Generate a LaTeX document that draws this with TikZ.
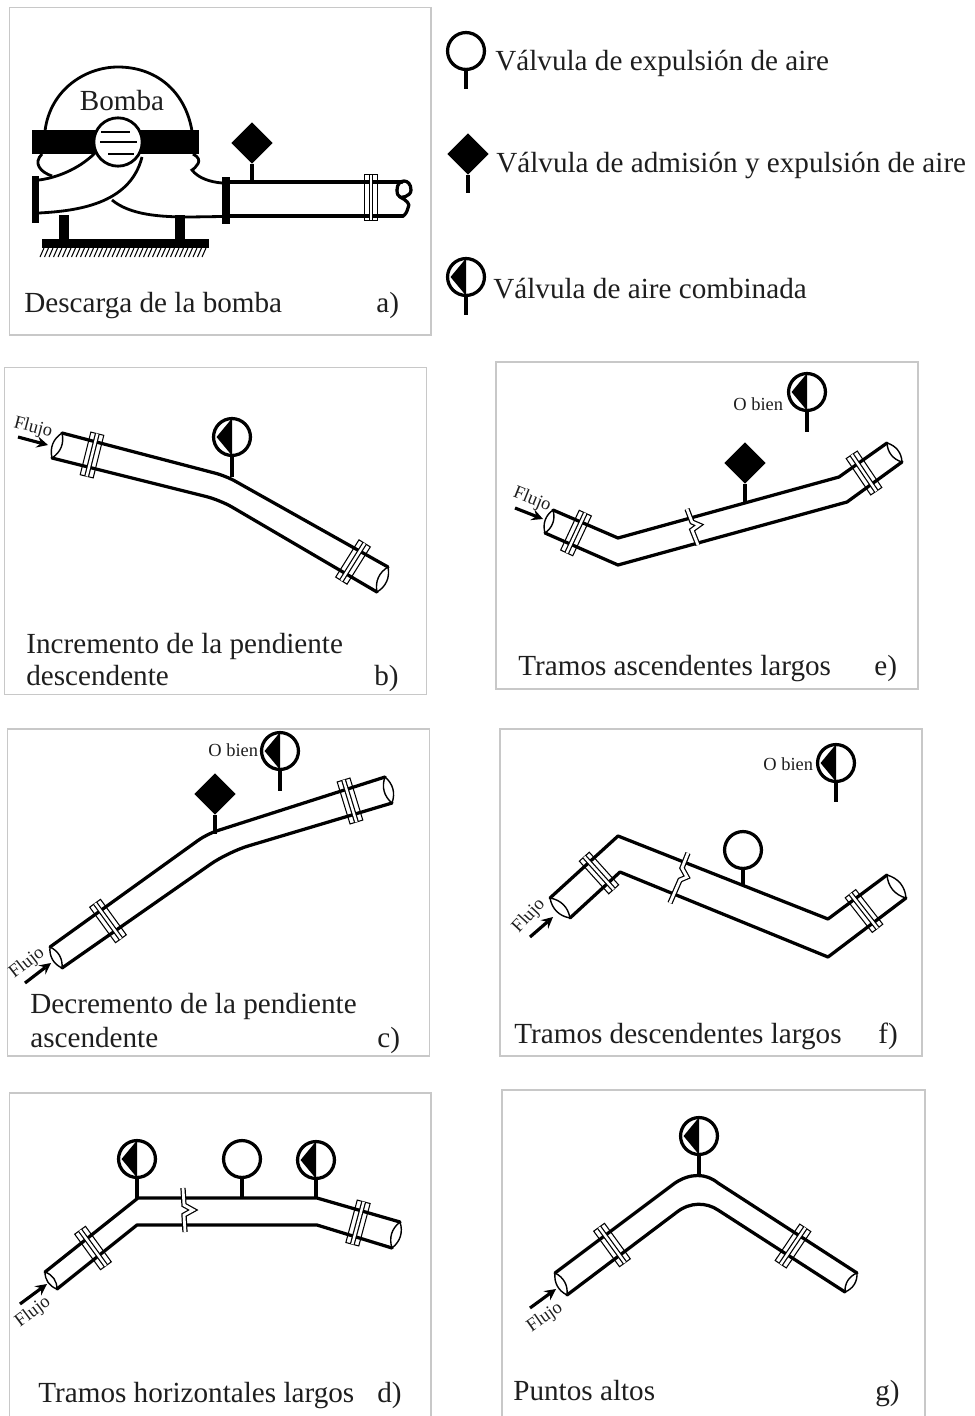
\documentclass[tikz,border=0pt]{standalone}
\usepackage{fontspec}
\setmainfont{Liberation Serif}
\usetikzlibrary{shapes.geometric}
\tikzset{>=stealth}
\definecolor{framegray}{HTML}{C8C8C8}
\definecolor{inkgray}{HTML}{1E1E1E}
\tikzset{
    panel/.style={draw=framegray, line width=0.6pt},
    pipeline/.style={line width=1.85pt, line join=round, line cap=round},
    pipeend/.style={line width=0.8pt},
    thinline/.style={line width=1.6pt},
    caption/.style={font=\fontsize{16.6}{19}\selectfont, text=inkgray, inner sep=0pt, anchor=base west},
    smalltext/.style={font=\fontsize{10.5}{12}\selectfont, text=inkgray, inner sep=0pt},
    flow/.style={line width=1.8pt, ->},
    stem/.style={line width=1.85pt},
    airvalve/.style={circle, draw, fill=white, line width=1.85pt, inner sep=0pt, outer sep=0pt, minimum size=21pt},
    combovalve/.style={airvalve, path picture={
        \fill[black] ([yshift=10.6pt]path picture bounding box.center) -- ([xshift=-8.8pt]path picture bounding box.center)
            -- ([yshift=-10.6pt]path picture bounding box.center) -- cycle;}},
    dualvalve/.style={diamond, fill, inner sep=0pt, outer sep=0pt, minimum size=23.5pt},
    flangebox/.style={rectangle, draw, line width=0.6pt, inner sep=0pt, outer sep=0pt, minimum width=7.6pt, minimum height=25pt},
    flangeline/.style={double, double distance=1.4pt, line width=0.7pt},
    breakline/.style={double=white, double distance=1.6pt, line width=0.7pt},
}
\begin{document}
\begin{tikzpicture}[x=0.02cm, y=-0.02cm]
    \useasboundingbox (0,0) rectangle (974,1416);
    \draw[panel] (9.5,7.5) rectangle (431,335);
    \draw[panel] (4.5,367.5) rectangle (426.5,694.5);
    \draw[panel] (7.5,729) rectangle (429.5,1056);
    \draw[panel] (9.5,1416) -- (9.5,1093) -- (431,1093) -- (431,1416);
    \draw[panel] (496,362) rectangle (918,689);
    \draw[panel] (500,729) rectangle (922,1056);
    \draw[panel] (502,1416) -- (502,1090) -- (925,1090) -- (925,1416);

    \draw[thinline] (45,131) .. controls (50,90) and (85,67) .. (118,67) .. controls (155,67) and (185,90) .. (192,131);
    \fill (32,130) rectangle (199,154);
    \fill (31.5,176) rectangle (38.5,223);
    \fill (222,177) rectangle (229.5,224);
    \fill (59,215) rectangle (69,240);
    \fill (175,215) rectangle (185,240);
    \fill (42,239) rectangle (209,248);
    \foreach \x in {44,48.5,...,208}
        \draw[line width=0.6pt] (\x,248) -- (\x-4,257);
    \draw[thinline] (42,154) .. controls (33,163) and (40,172) .. (52,176);
    \draw[thinline] (39,180) .. controls (55,178) and (78,170) .. (95,153);
    \draw[thinline] (39,213) .. controls (75,211) and (130,205) .. (142,157);
    \draw[thinline] (112,200) .. controls (130,215) and (160,217) .. (190,217) -- (222,216.5);
    \draw[thinline] (193,154) .. controls (205,160) and (195,168) .. (192,170) .. controls (198,178) and (210,182) .. (222,183);
    \node[airvalve, line width=1.6pt, minimum size=27.5pt] (impeller) at (118,142) {};
    \draw[thinline] (101,132) -- (130,132);
    \draw[thinline] (100,142) -- (137,142);
    \draw[thinline] (108,154) -- (134,154);
    \node[caption, anchor=base] (bomba) at (122,111) {Bomba};
    \draw[pipeline] (229,182) -- (402,182);
    \draw[pipeline] (229,216) -- (403,216);
    \draw[pipeline] (397,190) .. controls (397,178) and (411,178) .. (411,190) .. controls (411,197) and (400,198) .. (400,197) .. controls (406,200) and (411,204) .. (408,208) .. controls (407,212) and (405,215) .. (403,216);
    \draw[pipeline] (397,190) .. controls (397,194) and (398,196) .. (400,197);
    \node[flangebox, minimum height=26pt] (fa) at (371,197.5) {};
    \node[dualvalve] (va) at (252,143) {};
    \coordinate (ja) at (252,182);
    \draw[stem] (va.south) -- (ja);
    \node[caption] (capa) at (24,312) {Descarga de la bomba};
    \node[caption] (laba) at (376,312) {a)};

    \node[airvalve] (legair) at (466,51) {};
    \coordinate (endair) at (466,89);
    \draw[stem] (legair.south) -- (endair);
    \node[caption] (txtair) at (495,71) {Válvula de expulsión de aire};
    \node[dualvalve] (legdual) at (468,154) {};
    \coordinate (enddual) at (468,193);
    \draw[stem] (legdual.south) -- (enddual);
    \node[caption] (txtdual) at (496,173) {Válvula de admisión y expulsión de aire};
    \node[combovalve] (legcombo) at (466,277) {};
    \coordinate (endcombo) at (466,315);
    \draw[stem] (legcombo.south) -- (endcombo);
    \node[caption] (txtcombo) at (493,298) {Válvula de aire combinada};

    \draw[pipeline, rounded corners=6pt] (62,433) -- (226,476) -- (388,567);
    \draw[pipeline, rounded corners=8pt] (52,458) -- (220,500) -- (377,592);
    \node[flangebox, rotate=-14] (fb1) at (92,455) {};
    \node[flangebox, rotate=-32] (fb2) at (353,562) {};
    \node[combovalve] (vb) at (232,437) {};
    \coordinate (jb) at (232,477);
    \draw[stem] (vb.south) -- (jb);
    \coordinate (ab1) at (18,437);
    \coordinate (ab2) at (48,445);
    \draw[flow] (ab1) -- (ab2);
    \node[smalltext, rotate=-15] (flb) at (33,428) {Flujo};
    \node[caption] (capb1) at (26,653) {Incremento de la pendiente};
    \node[caption] (capb2) at (26,685) {descendente};
    \node[caption] (labb) at (374,685) {b)};

    \draw[pipeline, rounded corners=6pt] (50,947) -- (207,834) -- (385,777);
    \draw[pipeline, rounded corners=12pt] (62,968) -- (228,852) -- (392,803);
    \node[flangebox, rotate=36] (fc1) at (108,921) {};
    \node[flangebox, rotate=17] (fc2) at (350,801) {};
    \node[dualvalve] (vc1) at (215,794) {};
    \coordinate (jc1) at (215,834);
    \draw[stem] (vc1.south) -- (jc1);
    \node[combovalve] (vc2) at (280,751) {};
    \coordinate (jc2) at (280,791);
    \draw[stem] (vc2.south) -- (jc2);
    \node[smalltext, anchor=base west] (orc) at (208,756) {O bien};
    \coordinate (ac1) at (25,983);
    \coordinate (ac2) at (51,963);
    \draw[flow] (ac1) -- (ac2);
    \node[smalltext, rotate=38] (flc) at (27,963) {Flujo};
    \node[caption] (capc1) at (30,1013) {Decremento de la pendiente};
    \node[caption] (capc2) at (30,1047) {ascendente};
    \node[caption] (labc) at (377,1047) {c)};

    \draw[pipeline] (45,1272) -- (138,1198) -- (317,1198) -- (400,1222);
    \draw[pipeline] (57,1289) -- (137,1225) -- (317,1225) -- (392,1248);
    \draw[breakline] (183,1188) -- (184,1205) -- (193,1210) -- (184,1215) -- (185,1232);
    \node[flangebox, rotate=36] (fd1) at (93,1248) {};
    \node[flangebox, rotate=-15] (fd2) at (358,1223) {};
    \node[combovalve] (vd1) at (137,1159) {};
    \coordinate (jd1) at (137,1198);
    \draw[stem] (vd1.south) -- (jd1);
    \node[airvalve] (vd2) at (242,1159) {};
    \coordinate (jd2) at (242,1198);
    \draw[stem] (vd2.south) -- (jd2);
    \node[combovalve] (vd3) at (316,1160) {};
    \coordinate (jd3) at (316,1198);
    \draw[stem] (vd3.south) -- (jd3);
    \coordinate (ad1) at (20,1304);
    \coordinate (ad2) at (47,1284);
    \draw[flow] (ad1) -- (ad2);
    \node[smalltext, rotate=37] (fld) at (33,1312) {Flujo};
    \node[caption] (capd) at (38,1402) {Tramos horizontales largos};
    \node[caption] (labd) at (377,1402) {d)};

    \draw[pipeline] (553,510) -- (618,538) -- (839,477) -- (887,443);
    \draw[pipeline] (545,533) -- (618,565) -- (847,502) -- (902,462);
    \draw[breakline] (687,509) -- (692,522) -- (699,525) -- (692,530) -- (698,545);
    \node[flangebox, rotate=-25] (fe1) at (576,533) {};
    \node[flangebox, rotate=34] (fe2) at (864,473) {};
    \node[dualvalve] (ve1) at (745,463) {};
    \coordinate (je1) at (745,503);
    \draw[stem] (ve1.south) -- (je1);
    \node[combovalve] (ve2) at (807,392) {};
    \coordinate (je2) at (807,432);
    \draw[stem] (ve2.south) -- (je2);
    \node[smalltext, anchor=base west] (ore) at (733,410) {O bien};
    \coordinate (ae1) at (515,508);
    \coordinate (ae2) at (543,519);
    \draw[flow] (ae1) -- (ae2);
    \node[smalltext, rotate=-22] (fle) at (532,500) {Flujo};
    \node[caption] (cape) at (518,675) {Tramos ascendentes largos};
    \node[caption] (labe) at (874,675) {e)};

    \draw[pipeline] (550,898) -- (618,836) -- (828,919) -- (887,875);
    \draw[pipeline] (570,918) -- (620,872) -- (828,957) -- (906,898);
    \draw[breakline] (688,853) -- (682,868) -- (687,877) -- (680,880) -- (670,903);
    \node[flangebox, rotate=42] (ff1) at (599,873) {};
    \node[flangebox, rotate=38] (ff2) at (864,911) {};
    \node[airvalve] (vf1) at (743,850) {};
    \coordinate (jf1) at (743,885);
    \draw[stem] (vf1.south) -- (jf1);
    \node[combovalve] (vf2) at (836,763) {};
    \coordinate (jf2) at (836,802);
    \draw[stem] (vf2.south) -- (jf2);
    \node[smalltext, anchor=base west] (orf) at (763,770) {O bien};
    \coordinate (af1) at (530,937);
    \coordinate (af2) at (553,917);
    \draw[flow] (af1) -- (af2);
    \node[smalltext, rotate=47] (flf) at (529,916) {Flujo};
    \node[caption] (capf) at (514,1043) {Tramos descendentes largos};
    \node[caption] (labf) at (878,1043) {f)};

    \draw[pipeline] (555,1273) -- (675,1183) .. controls (690,1173) and (706,1173) .. (718,1183) -- (857,1273);
    \draw[pipeline] (567,1295) -- (677,1212) .. controls (690,1202) and (706,1202) .. (718,1210) -- (845,1292);
    \node[flangebox, rotate=36] (fg1) at (612,1245) {};
    \node[flangebox, rotate=-34] (fg2) at (793,1246) {};
    \node[combovalve] (vg) at (699,1136) {};
    \coordinate (jg) at (699,1177);
    \draw[stem] (vg.south) -- (jg);
    \coordinate (ag1) at (530,1308);
    \coordinate (ag2) at (556,1289);
    \draw[flow] (ag1) -- (ag2);
    \node[smalltext, rotate=35] (flg) at (545,1318) {Flujo};
    \node[caption] (capg) at (513,1400) {Puntos altos};
    \node[caption] (labg) at (875,1400) {g)};

    \foreach \f in {fa,fb1,fb2,fc1,fc2,fd1,fd2,fe1,fe2,ff1,ff2,fg1,fg2}
        \draw[flangeline] (\f.north) -- (\f.south);
    \foreach \ax/\ay/\bx/\by in {62/433/52/458,388/567/377/592,50/947/62/968,385/777/392/803,
        45/1272/57/1289,400/1222/392/1248,553/510/545/533,887/443/902/462,
        550/898/570/918,887/875/906/898,555/1273/567/1295,857/1273/845/1292}
        \draw[pipeend, fill=white] (\ax,\ay) to[bend left=35] (\bx,\by) to[bend left=35] (\ax,\ay);
\end{tikzpicture}
\end{document}
